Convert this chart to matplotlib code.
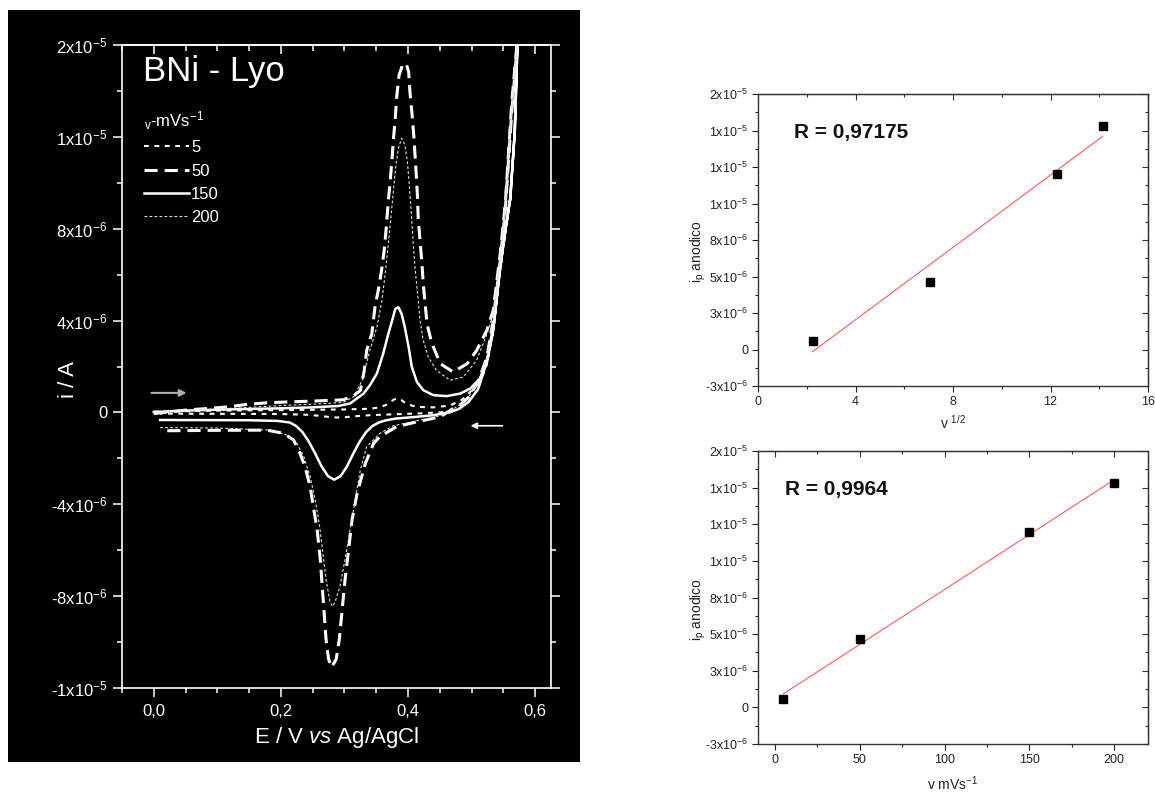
import numpy as np
import matplotlib
matplotlib.use("Agg")
import matplotlib.pyplot as plt
from matplotlib.patches import Rectangle
from matplotlib.ticker import MultipleLocator, FixedLocator

plt.rcParams["font.family"] = ["Liberation Sans", "DejaVu Sans"]
plt.rcParams["mathtext.fontset"] = "custom"
plt.rcParams["mathtext.rm"] = "Liberation Sans"
plt.rcParams["mathtext.it"] = "Liberation Sans:italic"
plt.rcParams["mathtext.bf"] = "Liberation Sans:bold"
plt.rcParams["mathtext.default"] = "regular"

# --- cyclic voltammograms: E in V, i in uA
# forward sweep (0 -> vertex) and reverse sweep (vertex -> 0)
E_5_fwd = [0.000, 0.100, 0.200, 0.300, 0.340, 0.355, 0.365, 0.372, 0.381, 0.390, 0.398, 0.414, 0.440,
           0.466, 0.485, 0.500, 0.512, 0.524, 0.534, 0.545, 0.553, 0.561, 0.568, 0.572, 0.580]
i_5_fwd = [0.03, 0.08, 0.10, 0.13, 0.16, 0.22, 0.32, 0.46, 0.61, 0.53, 0.36, 0.24, 0.22,
           0.30, 0.55, 0.95, 1.40, 2.10, 3.50, 6.20, 7.80, 9.30, 12.20, 15.80, 20.0]
E_5_rev = [0.572, 0.568, 0.561, 0.553, 0.545, 0.534, 0.524, 0.510, 0.495, 0.480, 0.460, 0.420,
           0.380, 0.340, 0.315, 0.300, 0.288, 0.276, 0.262, 0.240, 0.200, 0.100, 0.010]
i_5_rev = [15.80, 12.20, 9.30, 7.80, 6.20, 3.50, 2.10, 1.00, 0.45, 0.15, 0.02, -0.04,
           -0.08, -0.12, -0.17, -0.21, -0.22, -0.20, -0.15, -0.10, -0.07, -0.06, -0.05]

E_50_fwd = [0.000, 0.050, 0.116, 0.147, 0.178, 0.214, 0.246, 0.282, 0.298, 0.314, 0.325, 0.331, 0.335, 0.343,
            0.348, 0.354, 0.359, 0.363, 0.366, 0.369, 0.372, 0.375, 0.377, 0.380, 0.382, 0.386, 0.391, 0.397,
            0.401, 0.403, 0.406, 0.409, 0.411, 0.413, 0.415, 0.416, 0.419, 0.422, 0.424, 0.427, 0.430, 0.435,
            0.440, 0.451, 0.471, 0.493, 0.508, 0.524, 0.534, 0.545, 0.553, 0.558, 0.563, 0.571, 0.580]
i_50_fwd = [-0.05, 0.10, 0.24, 0.35, 0.42, 0.46, 0.49, 0.53, 0.55, 0.72, 0.95, 1.80, 2.70, 3.42,
            4.58, 5.44, 6.30, 7.18, 8.12, 9.20, 10.07, 11.08, 11.88, 12.81, 13.68, 14.69, 15.10, 15.20,
            14.84, 13.97, 13.10, 12.09, 11.23, 10.36, 9.34, 8.48, 7.47, 6.46, 5.59, 4.72, 3.85, 3.28,
            2.84, 2.12, 1.76, 2.12, 2.70, 3.57, 4.43, 6.89, 9.06, 11.2, 13.4, 15.9, 20.0]
E_50_rev = [0.571, 0.563, 0.558, 0.553, 0.545, 0.534, 0.524, 0.510, 0.495, 0.483, 0.471, 0.451, 0.414,
            0.382, 0.356, 0.346, 0.333, 0.320, 0.312, 0.306, 0.301, 0.296, 0.292, 0.287, 0.280, 0.275,
            0.271, 0.268, 0.265, 0.262, 0.257, 0.251, 0.246, 0.238, 0.230, 0.220, 0.204, 0.178, 0.100, 0.010]
i_50_rev = [15.7, 13.0, 10.9, 8.8, 6.6, 4.0, 2.4, 1.3, 0.65, 0.35, 0.17, -0.19, -0.41,
            -0.62, -1.05, -1.34, -2.21, -3.51, -4.67, -6.11, -7.27, -8.71, -9.87, -10.74, -11.10, -10.74,
            -9.87, -8.71, -7.56, -6.40, -5.10, -4.09, -3.22, -2.36, -1.78, -1.20, -0.91, -0.77, -0.78, -0.80]

E_150_fwd = [0.000, 0.050, 0.100, 0.150, 0.200, 0.250, 0.290, 0.309, 0.330, 0.340, 0.351, 0.361, 0.369,
             0.375, 0.380, 0.385, 0.390, 0.395, 0.401, 0.406, 0.414, 0.424, 0.440, 0.461, 0.482, 0.498,
             0.513, 0.524, 0.534, 0.545, 0.553, 0.561, 0.568, 0.572, 0.580]
i_150_fwd = [0.02, 0.08, 0.12, 0.15, 0.18, 0.22, 0.28, 0.39, 0.82, 1.18, 1.69, 2.56, 3.42,
             4.00, 4.51, 4.58, 4.29, 3.71, 2.84, 1.98, 1.33, 0.97, 0.75, 0.71, 0.82, 1.04,
             1.47, 2.20, 3.60, 6.30, 7.90, 9.34, 12.24, 15.85, 20.0]
E_150_rev = [0.572, 0.568, 0.561, 0.553, 0.545, 0.534, 0.524, 0.510, 0.495, 0.480, 0.465, 0.440, 0.410,
             0.380, 0.364, 0.354, 0.344, 0.334, 0.324, 0.314, 0.304, 0.294, 0.284, 0.274, 0.264, 0.254,
             0.244, 0.234, 0.224, 0.214, 0.195, 0.150, 0.010]
i_150_rev = [15.85, 12.24, 9.34, 7.90, 6.30, 3.60, 2.20, 1.00, 0.45, 0.15, 0.00, -0.12, -0.20,
             -0.27, -0.35, -0.44, -0.59, -0.86, -1.27, -1.79, -2.35, -2.77, -2.93, -2.77, -2.35, -1.79,
             -1.27, -0.86, -0.59, -0.44, -0.37, -0.34, -0.33]

E_200_fwd = [0.000, 0.050, 0.100, 0.150, 0.200, 0.250, 0.280, 0.300, 0.315, 0.328, 0.340, 0.351, 0.359,
             0.364, 0.369, 0.373, 0.377, 0.381, 0.385, 0.390, 0.395, 0.399, 0.402, 0.405, 0.408, 0.411,
             0.415, 0.419, 0.424, 0.432, 0.445, 0.466, 0.487, 0.508, 0.524, 0.535, 0.545, 0.553, 0.558,
             0.563, 0.571, 0.580]
i_200_fwd = [-0.02, 0.08, 0.15, 0.22, 0.30, 0.36, 0.40, 0.46, 0.70, 1.40, 2.70, 3.71, 4.87,
             6.02, 7.32, 8.48, 9.63, 10.79, 11.51, 11.94, 11.66, 10.93, 9.92, 8.77, 7.47, 6.31,
             5.16, 4.00, 3.13, 2.41, 1.83, 1.40, 1.54, 2.27, 3.40, 4.40, 6.70, 8.90, 11.0,
             13.2, 15.8, 20.0]
E_200_rev = [0.571, 0.563, 0.558, 0.553, 0.545, 0.534, 0.524, 0.510, 0.495, 0.483, 0.471, 0.450, 0.414,
             0.377, 0.356, 0.335, 0.325, 0.317, 0.309, 0.301, 0.293, 0.285, 0.281, 0.277, 0.271, 0.266,
             0.261, 0.254, 0.246, 0.236, 0.225, 0.209, 0.183, 0.100, 0.010]
i_200_rev = [15.7, 13.0, 10.9, 8.8, 6.6, 4.0, 2.4, 1.3, 0.65, 0.35, 0.15, -0.15, -0.36,
             -0.58, -0.91, -1.49, -2.50, -3.80, -5.10, -6.40, -7.56, -8.28, -8.45, -8.21, -7.27, -6.11,
             -4.96, -3.80, -2.79, -1.92, -1.34, -0.98, -0.77, -0.68, -0.66]

cv_xticks = [0.0, 0.2, 0.4, 0.6]
cv_xticklabels = ["0,0", "0,2", "0,4", "0,6"]
cv_yticks = [-12, -8, -4, 0, 4, 8, 12, 16]  # uA
cv_yticklabels = ["-1x10$^{-5}$", "-8x10$^{-6}$", "-4x10$^{-6}$", "0",
                  "4x10$^{-6}$", "8x10$^{-6}$", "1x10$^{-5}$", "2x10$^{-5}$"]

# sweep direction arrows (E in V, i in uA)
arrow_fwd = ((-0.008, 0.85), (0.056, 0.85))
arrow_rev = ((0.553, -0.58), (0.494, -0.58))

# --- anodic peak current vs scan rate
scan_rate = [5, 50, 150, 200]  # mV/s
ip_anodic = [0.60, 4.65, 12.0, 15.3]  # uA
fit_yticks = [-2.5, 0, 2.5, 5, 7.5, 10, 12.5, 15, 17.5]  # uA
fit_yticklabels = ["-3x10$^{-6}$", "0", "3x10$^{-6}$", "5x10$^{-6}$", "8x10$^{-6}$",
                   "1x10$^{-5}$", "1x10$^{-5}$", "1x10$^{-5}$", "2x10$^{-5}$"]

W, H = 1155, 792
fig = plt.figure(figsize=(W / 100, H / 100), dpi=100)


def px_box(x0, y0, x1, y1):
    return [x0 / W, 1 - y1 / H, (x1 - x0) / W, (y1 - y0) / H]


fig.add_artist(Rectangle((8 / W, 1 - 762 / H), 572 / W, 752 / H, transform=fig.transFigure,
                         facecolor="black", edgecolor="none", zorder=-1))

ax = fig.add_axes(px_box(122, 45, 551, 688))
ax.set_facecolor("black")

curves = [
    ("5", E_5_fwd + E_5_rev, i_5_fwd + i_5_rev, dict(ls=(0, (2.3, 2.7)), lw=1.5, color="white")),
    ("50", E_50_fwd + E_50_rev, i_50_fwd + i_50_rev, dict(ls=(0, (4.3, 2.3)), lw=2.2, color="white")),
    ("150", E_150_fwd + E_150_rev, i_150_fwd + i_150_rev, dict(ls="-", lw=1.8, color="white")),
    ("200", E_200_fwd + E_200_rev, i_200_fwd + i_200_rev, dict(ls=(0, (2.5, 2)), lw=0.8, color="#e0e0e0")),
]
for name, E, i, st in curves:
    ax.plot(E, np.array(i) * 1e-6, label=name, **st)

ax.annotate("", xy=(arrow_fwd[1][0], arrow_fwd[1][1] * 1e-6), xytext=(arrow_fwd[0][0], arrow_fwd[0][1] * 1e-6),
            arrowprops=dict(arrowstyle="-|>", color="#b0b0b0", lw=1.5, mutation_scale=10))
ax.annotate("", xy=(arrow_rev[1][0], arrow_rev[1][1] * 1e-6), xytext=(arrow_rev[0][0], arrow_rev[0][1] * 1e-6),
            arrowprops=dict(arrowstyle="-|>", color="white", lw=1.2, mutation_scale=9))

ax.set_xlim(-0.05, 0.625)
ax.set_ylim(-12e-6, 16e-6)
ax.xaxis.set_major_locator(FixedLocator(cv_xticks))
ax.set_xticklabels(cv_xticklabels)
ax.xaxis.set_minor_locator(MultipleLocator(0.05))
ax.set_yticks(np.array(cv_yticks) * 1e-6, cv_yticklabels)
ax.yaxis.set_minor_locator(MultipleLocator(2e-6))
ax.tick_params(which="both", colors="white", direction="out", width=1.1, labelsize=12, right=True)
ax.tick_params(which="major", length=6.5)
ax.tick_params(which="minor", length=3.5)
ax.tick_params(axis="y", pad=4)
ax.tick_params(axis="x", pad=5)
for s in ax.spines.values():
    s.set_color("white")
    s.set_linewidth(1.2)

top = ax.secondary_xaxis("top")
top.xaxis.set_major_locator(FixedLocator(cv_xticks))
top.xaxis.set_minor_locator(MultipleLocator(0.05))
top.tick_params(which="both", direction="in", colors="white", labeltop=False, width=1.1)
top.tick_params(which="major", length=6.5)
top.tick_params(which="minor", length=4)
top.spines["top"].set_color("white")
top.spines["top"].set_linewidth(1.2)

ax.set_xlabel("E / V $\\mathit{vs}$ Ag/AgCl", fontsize=16, color="white")
ax.xaxis.set_label_coords(0.5, -0.058)
ax.set_ylabel("i / A", fontsize=16, color="white")
ax.yaxis.set_label_coords(-0.10, 0.48)

ax.text(0.049, 0.985, "BNi - Lyo", transform=ax.transAxes, fontsize=25, color="white", va="top")

leg = ax.legend(title="$_{v}$-mVs$^{-1}$", loc="upper left", bbox_to_anchor=(0.052, 0.9),
                frameon=False, fontsize=12, title_fontsize=12, labelcolor="white",
                handlelength=2.7, handletextpad=0.1, labelspacing=0.5,
                borderaxespad=0, borderpad=0, alignment="left")
leg.get_title().set_color("white")


def fit_panel(box, x, xlim, xmajor, xminor, xlabel, xlabel_y, rtext, rpos):
    a = fig.add_axes(px_box(*box))
    y = np.array(ip_anodic) * 1e-6
    a.plot(x, y, "s", color="black", ms=5.5, zorder=3)
    k, b = np.polyfit(x, y, 1)
    xs = np.array([min(x), max(x)])
    a.plot(xs, k * xs + b, color="#ff5a5a", lw=0.8)

    a.set_xlim(*xlim)
    a.set_ylim(-2.5e-6, 17.5e-6)
    a.xaxis.set_major_locator(MultipleLocator(xmajor))
    a.xaxis.set_minor_locator(MultipleLocator(xminor))
    a.set_yticks(np.array(fit_yticks) * 1e-6, fit_yticklabels)
    a.yaxis.set_minor_locator(MultipleLocator(1.25e-6))
    a.tick_params(which="both", direction="out", width=0.8, labelsize=9, colors="#222222", pad=3)
    a.tick_params(which="major", length=4)
    a.tick_params(which="minor", length=2.5)
    for s in a.spines.values():
        s.set_color("#333333")
        s.set_linewidth(1.0)

    t = a.secondary_xaxis("top")
    t.xaxis.set_major_locator(MultipleLocator(xmajor))
    t.xaxis.set_minor_locator(MultipleLocator(xminor))
    t.tick_params(which="both", direction="in", labeltop=False, width=0.8, colors="#333333")
    t.tick_params(which="major", length=4)
    t.tick_params(which="minor", length=2.5)
    r = a.secondary_yaxis("right")
    r.set_yticks(np.array(fit_yticks) * 1e-6)
    r.yaxis.set_minor_locator(MultipleLocator(1.25e-6))
    r.tick_params(which="both", direction="in", labelright=False, width=0.8, colors="#333333")
    r.tick_params(which="major", length=4)
    r.tick_params(which="minor", length=2.5)

    a.set_xlabel(xlabel, fontsize=10, color="#222222")
    a.xaxis.set_label_coords(0.5, xlabel_y)
    a.set_ylabel("i$_p$ anodico", fontsize=10, color="#222222")
    a.yaxis.set_label_coords(-0.127, 0.46)
    a.text(rpos[0], rpos[1], rtext, transform=a.transAxes, fontsize=15, fontweight="bold",
           va="center", color="#111111")
    return a


fit_panel((758, 94, 1148, 386), np.sqrt(scan_rate), (0, 16), 4, 2, "v $^{1/2}$", -0.095,
          "R = 0,97175", (0.093, 0.868))
fit_panel((758, 451, 1148, 744), np.array(scan_rate), (-10, 220), 50, 25, "v mVs$^{-1}$", -0.105,
          "R = 0,9964", (0.068, 0.868))

fig.savefig("out.png", dpi=100, facecolor="white")
